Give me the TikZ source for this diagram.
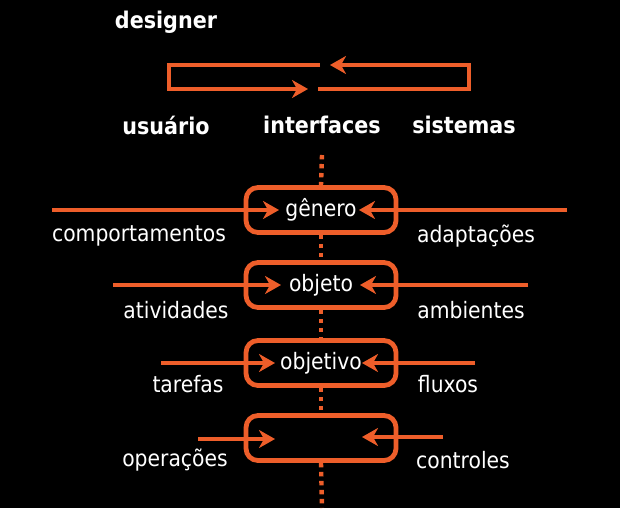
\documentclass[tikz,border=0pt]{standalone}
\usepackage{fontspec}
\setmainfont{DejaVu Sans Condensed}
\usetikzlibrary{arrows.meta,positioning}
\definecolor{FlowOrange}{RGB}{238,94,42}

\tikzset{
  layer/.style={draw=FlowOrange,line width=2.4pt,rounded corners=6pt,
    minimum width=75pt,minimum height=22.5pt,inner sep=0pt},
  flow/.style={draw=FlowOrange,line width=2.4pt,
    -{Stealth[length=8pt,width=9pt,inset=2.5pt]}},
  axis/.style={draw=FlowOrange,line width=2.2pt,dash pattern=on 2.2pt off 2.3pt},
  role/.style={text=white,font=\fontsize{11.5}{13}\selectfont\bfseries},
  lbl/.style={text=white,font=\fontsize{11.3}{13}\selectfont,inner sep=0pt},
}

\begin{document}
\begin{tikzpicture}[x=0.5pt,y=-0.5pt]
\fill[black] (0,0) rectangle (620,508);
\useasboundingbox (0,0) rectangle (620,508);

% roles
\node[role] (designer) at (166,22) {designer};
\node[role] (usuario) at (166,125) {usuário};
\node[role] (interfaces) at (322,125) {interfaces};
\node[role] (sistemas) at (464,125) {sistemas};

% loop between usuario and sistemas
\coordinate (la) at (320,65);
\coordinate (lb) at (308,89);
\coordinate (ra) at (318,89);
\coordinate (rb) at (330,65);
\draw[flow,rounded corners=0pt] (la) -- (169,65) -- (169,89) -- (lb);
\draw[flow,rounded corners=0pt] (ra) -- (469,89) -- (469,65) -- (rb);

% layers
\node[layer] (b1) at (321,210) {};
\node[layer] (b2) at (321,285) {};
\node[layer] (b3) at (321,363) {};
\node[layer] (b4) at (321,438) {};
\node[lbl] (genero) at (b1) {gênero};
\node[lbl] (objeto) at (b2) {objeto};
\node[lbl] (objetivo) at (b3) {objetivo};

% dotted axis
\coordinate (top) at (322,155);
\coordinate (bottom) at (322,508);
\draw[axis] (top) -- (b1.north);
\draw[axis] (b1.south) -- (b2.north);
\draw[axis] (b2.south) -- (b3.north);
\draw[axis] (b3.south) -- (b4.north);
\draw[axis] (b4.south) -- (bottom);

% row 1
\coordinate (l1) at (52,210);
\coordinate (r1) at (567,210);
\draw[flow] (l1) -- ([xshift=-21pt]b1.center);
\draw[flow] (r1) -- ([xshift=19pt]b1.center);
\node[lbl] (comportamentos) at (139,236) {comportamentos};
\node[lbl] (adaptacoes) at (476,236) {adaptações};

% row 2
\coordinate (l2) at (113,285);
\coordinate (r2) at (528,285);
\draw[flow] (l2) -- ([xshift=-20pt]b2.center);
\draw[flow] (r2) -- ([xshift=19.5pt]b2.center);
\node[lbl] (atividades) at (176,310) {atividades};
\node[lbl] (ambientes) at (471,310) {ambientes};

% row 3
\coordinate (l3) at (161,363);
\coordinate (r3) at (475,363);
\draw[flow] (l3) -- ([xshift=-23pt]b3.center);
\draw[flow] (r3) -- ([xshift=20.5pt]b3.center);
\node[lbl] (tarefas) at (188,384) {tarefas};
\node[lbl] (fluxos) at (448,384) {fluxos};

% row 4
\coordinate (l4) at (198,439);
\coordinate (r4) at (443,437);
\draw[flow] (l4) -- ([xshift=-23pt,yshift=-0.5pt]b4.center);
\draw[flow] (r4) -- ([xshift=20.5pt,yshift=0.5pt]b4.center);
\node[lbl] (operacoes) at (175,460) {operações};
\node[lbl] (controles) at (463,460) {controles};
\end{tikzpicture}
\end{document}
